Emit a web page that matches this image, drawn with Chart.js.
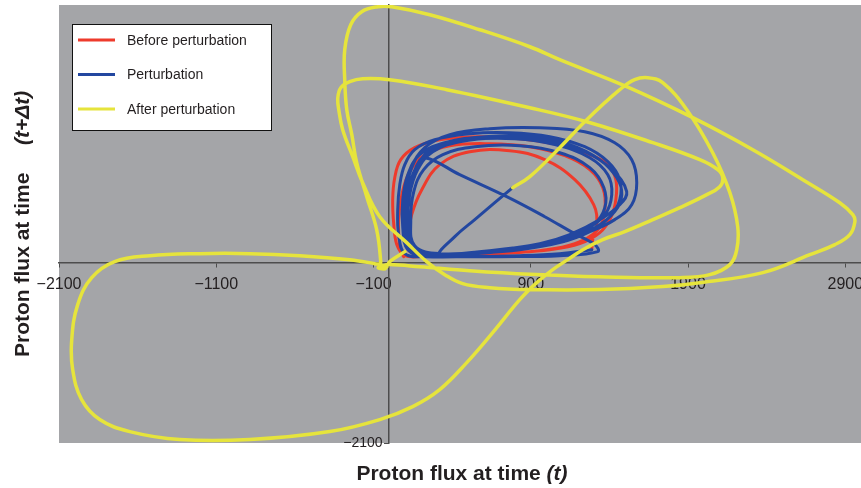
<!DOCTYPE html>
<html>
<head>
<meta charset="utf-8">
<script src="https://cdn.jsdelivr.net/npm/chart.js@4.4.1/dist/chart.umd.min.js"></script>
<style>
  body { margin: 0; background: #fff; }
  canvas { display: block; }
</style>
</head>
<body>
<canvas id="flux" width="861" height="488"></canvas>
<script>
// Axis ticks
const xTicks = [-2100, -1100, -100, 900, 1900, 2900]
const yTicks = [-2100]

// Before perturbation: flux at t (x) and at t+dt (y)
const beforeX = [92, 48, 29, 22, 35, 73, 162, 321, 576, 830, 1072, 1275, 1390, 1441, 1441, 1409, 1339, 1212, 1021, 766, 512, 258, 99,
    67, 60, 80, 130, 226, 385, 639, 894, 1116, 1275, 1358, 1371, 1326, 1180, 957, 703, 448, 194, 118,
    118, 143, 207, 321, 512, 766, 989, 1180, 1300, 1320, 1294, 1288]
const beforeY = [70, 210, 442, 733, 989, 1199, 1339, 1432, 1467, 1443, 1374, 1257, 1141, 966, 733, 524, 349, 221, 151, 116, 93, 81, 81,
    210, 501, 792, 1059, 1257, 1362, 1385, 1350, 1245, 1083, 873, 617, 384, 221, 140, 105, 93, 93, 151,
    268, 559, 850, 1141, 1292, 1304, 1199, 966, 675, 442, 268, 151]

// Perturbation
const pertX = [1288, 1084, 830, 512, 226, 99, 60, 54, 67, 99, 162, 289, 512, 766, 1021, 1243, 1390, 1466, 1466, 1403, 1275, 1084,
    830, 512, 226, 118, 86, 86, 118, 194, 353, 607, 894, 1148, 1339, 1447, 1479, 1434, 1307, 1116,
    862, 544, 258, 143, 118, 130, 181, 277, 448, 703, 989, 1243, 1415, 1510, 1466, 1339, 1148,
    957, 639, 321, 162, 137, 156, 219, 341, 544, 830, 1084, 1275, 1365, 1371, 1300, 1148,
    894, 576, 270, 149, 105, 105, 143, 226, 385, 639, 957, 1243, 1434, 1542, 1574, 1542, 1434, 1275, 1084,
    766, 448, 226, 130, 99, 118, 169, 226, 448, 747, 989, 1167, 1307, 1326,
    1084, 703, 385, 181, 130, 118, 130, 181, 289, 512, 798, 1053, 1275, 1390, 1415, 1371, 1243, 1053, 798, 544, 321,
    417, 544, 671, 785]
const pertY = [151, 105, 81, 70, 70, 105, 326, 617, 908, 1141, 1315, 1432, 1502, 1513, 1467, 1350, 1176, 966, 733, 535, 361, 233,
    151, 105, 81, 151, 407, 733, 1024, 1257, 1397, 1467, 1467, 1374, 1199, 989, 792, 594, 407, 268,
    163, 116, 93, 186, 477, 792, 1083, 1292, 1408, 1455, 1432, 1292, 1083, 826, 675, 501, 326,
    221, 140, 105, 198, 501, 826, 1083, 1257, 1350, 1362, 1280, 1106, 873, 640, 442, 291,
    198, 128, 81, 151, 442, 792, 1106, 1339, 1490, 1560, 1571, 1525, 1397, 1199, 931, 675, 501, 361, 233,
    151, 93, 81, 175, 477, 826, 1106, 1222, 1024, 768, 535, 349, 210, 128,
    81, 70, 70, 93, 210, 501, 850, 1141, 1339, 1432, 1443, 1374, 1222, 1024, 792, 559, 384, 233, 151, 105, 93,
    303, 501, 698, 873]

// After perturbation
const afterX = [785, 894, 1084, 1256, 1466, 1561, 1644, 1739, 1892, 2057, 2166, 2216, 2210, 2166, 2038, 1847, 1339, 894, 512, 194, 3, -41,
    -70, -25, -60, -54, -80, -143, -207, -238, -270, -283, -283, -245, -175, -73, 16, 258, 576, 894, 1084, 1510, 1930, 2312, 2630, 2865, 2948, 2961,
    2929, 2834, 2675, 2376, 1975, 1739, 1339, 894, 639, 467, 353, 238, 111, -60, -169, -232, -296, -321, -327, -308, -251, -169,
    3, 366, 894, 1256, 1676, 1975, 2089, 2121, 2102, 2007, 1848, 1676, 1498, 1358, 1231, 1135, 1040, 938, 830,
    658, 493, 321, 149, -60, -378, -887, -1332, -1650, -1841, -1956, -2013, -2019, -1981, -1892, -1746,
    -1523, -1205, -887, -569, -251, -92, -41, -65, -20, 3, 99]
const afterY = [873, 1001, 1339, 1665, 2014, 2130, 2153, 2095, 1781, 1280, 815, 419, 151, -23, -140, -175, -165, -135, -93, -47, -23, -35,
    -60, -70, -20, 12, 384, 768, 1164, 1490, 1781, 2130, 2479, 2770, 2922, 2980, 2980, 2887, 2712, 2514, 2363, 2049, 1688, 1315, 966, 698, 559, 477,
    326, 210, 93, -116, -233, -279, -314, -314, -291, -244, -140, 12, 233, 535, 931, 1234, 1548, 1781, 1921, 2037, 2107, 2142,
    2130, 2014, 1804, 1641, 1397, 1199, 1083, 989, 885, 780, 640, 501, 361, 268, 151, 35, -81, -233, -431,
    -815, -1164, -1478, -1676, -1827, -1967, -2060, -2060, -1967, -1827, -1595, -1245, -896, -489, -175, 12,
    81, 105, 105, 81, 35, -12, -35, -60, -55, 12, 128]

function toPoints(xs, ys) {
    return xs.map(function(x, i) {
        return {x: x, y: ys[i]}
    })
}

const fontFamily = '"Liberation Sans", Arial, Helvetica, sans-serif'
const minus = v => String(v).replace('-', '\u2212')

// axes sit at the origin, so they must not push the plot area around
const noPadding = axis => {
    axis.paddingLeft = 0
    axis.paddingRight = 0
    axis.paddingTop = 0
    axis.paddingBottom = 0
}

// grey plot area
const backdrop = {
    id: 'backdrop',
    beforeDraw(chart) {
        const {ctx, chartArea: a} = chart
        ctx.save()
        ctx.fillStyle = '#a4a5a8'
        ctx.fillRect(a.left, a.top, a.right - a.left, a.bottom - a.top)
        ctx.restore()
    }
}

// boxed legend in the top left corner
const keyBox = {
    id: 'keyBox',
    afterDraw(chart) {
        const ctx = chart.ctx
        ctx.save()
        ctx.fillStyle = '#ffffff'
        ctx.fillRect(72, 24, 199, 106)
        ctx.strokeStyle = '#111'
        ctx.lineWidth = 1
        ctx.strokeRect(72.5, 24.5, 199, 106)
        ctx.font = '14px ' + fontFamily
        ctx.textBaseline = 'middle'
        chart.data.datasets.forEach(function(ds, i) {
            const y = 40 + i * 34.5
            ctx.strokeStyle = ds.borderColor
            ctx.lineWidth = 3
            ctx.beginPath()
            ctx.moveTo(78, y)
            ctx.lineTo(115, y)
            ctx.stroke()
            ctx.fillStyle = '#231f20'
            ctx.fillText(ds.label, 127, y + 1)
        })
        ctx.restore()
    }
}

// axis titles, bold with an italic part
const axisTitles = {
    id: 'axisTitles',
    afterDraw(chart) {
        const ctx = chart.ctx
        const bold = 'bold 21px ' + fontFamily
        const boldItalic = 'italic bold 21px ' + fontFamily
        ctx.save()
        ctx.fillStyle = '#231f20'
        ctx.textBaseline = 'alphabetic'

        // x title
        ctx.font = bold
        const partA = 'Proton flux at time '
        const wA = ctx.measureText(partA).width
        ctx.font = boldItalic
        const wB = ctx.measureText('(t)').width
        let x0 = 462 - (wA + wB) / 2
        ctx.font = bold
        ctx.fillText(partA, x0, 480)
        ctx.font = boldItalic
        ctx.fillText('(t)', x0 + wA, 480)

        // y title
        ctx.translate(29, 357)
        ctx.rotate(-Math.PI / 2)
        ctx.font = bold
        ctx.fillText('Proton flux at time', 0, 0)
        ctx.font = boldItalic
        ctx.fillText('(t+\u0394t)', 212, 0)
        ctx.restore()
    }
}

new Chart('flux', {
    type: 'scatter',
    data: {
        datasets: [
            {
                label: 'Before perturbation',
                data: toPoints(beforeX, beforeY),
                borderColor: '#ee3b2c',
                borderWidth: 3,
                order: 3
            },
            {
                label: 'Perturbation',
                data: toPoints(pertX, pertY),
                borderColor: '#2347a0',
                borderWidth: 3,
                order: 2
            },
            {
                label: 'After perturbation',
                data: toPoints(afterX, afterY),
                borderColor: '#e6e43c',
                borderWidth: 3.5,
                order: 1
            }
        ]
    },
    options: {
        responsive: false,
        animation: false,
        showLine: true,
        elements: {
            point: {radius: 0, hoverRadius: 0},
            line: {tension: 0.4, fill: false, borderCapStyle: 'round', borderJoinStyle: 'round'}
        },
        layout: {
            padding: {left: 59, right: 0, top: 5, bottom: 45}
        },
        scales: {
            x: {
                type: 'linear',
                min: -2100,
                max: 3000,
                position: {y: 0},
                z: 1,
                afterBuildTicks: axis => { axis.ticks = xTicks.map(v => ({value: v})) },
                afterFit: noPadding,
                ticks: {
                    color: '#231f20',
                    font: {family: fontFamily, size: 16},
                    padding: 8,
                    callback: minus
                },
                grid: {drawOnChartArea: false, drawTicks: true, tickLength: 4, color: '#4d4d4d'},
                border: {color: '#4d4d4d', width: 1.5}
            },
            y: {
                type: 'linear',
                min: -2100,
                max: 3000,
                position: {x: 0},
                z: 1,
                afterBuildTicks: axis => { axis.ticks = yTicks.map(v => ({value: v})) },
                afterFit: noPadding,
                ticks: {
                    color: '#231f20',
                    font: {family: fontFamily, size: 14},
                    // label is drawn right at the axis, so keep a gap for the tick mark
                    callback: v => minus(v) + ' \u2009'
                },
                grid: {drawOnChartArea: false, drawTicks: true, tickLength: 4, color: '#4d4d4d'},
                border: {color: '#4d4d4d', width: 1.5}
            }
        },
        plugins: {
            legend: {display: false},
            tooltip: {enabled: false},
            title: {display: false}
        }
    },
    plugins: [backdrop, keyBox, axisTitles]
})
</script>
</body>
</html>
